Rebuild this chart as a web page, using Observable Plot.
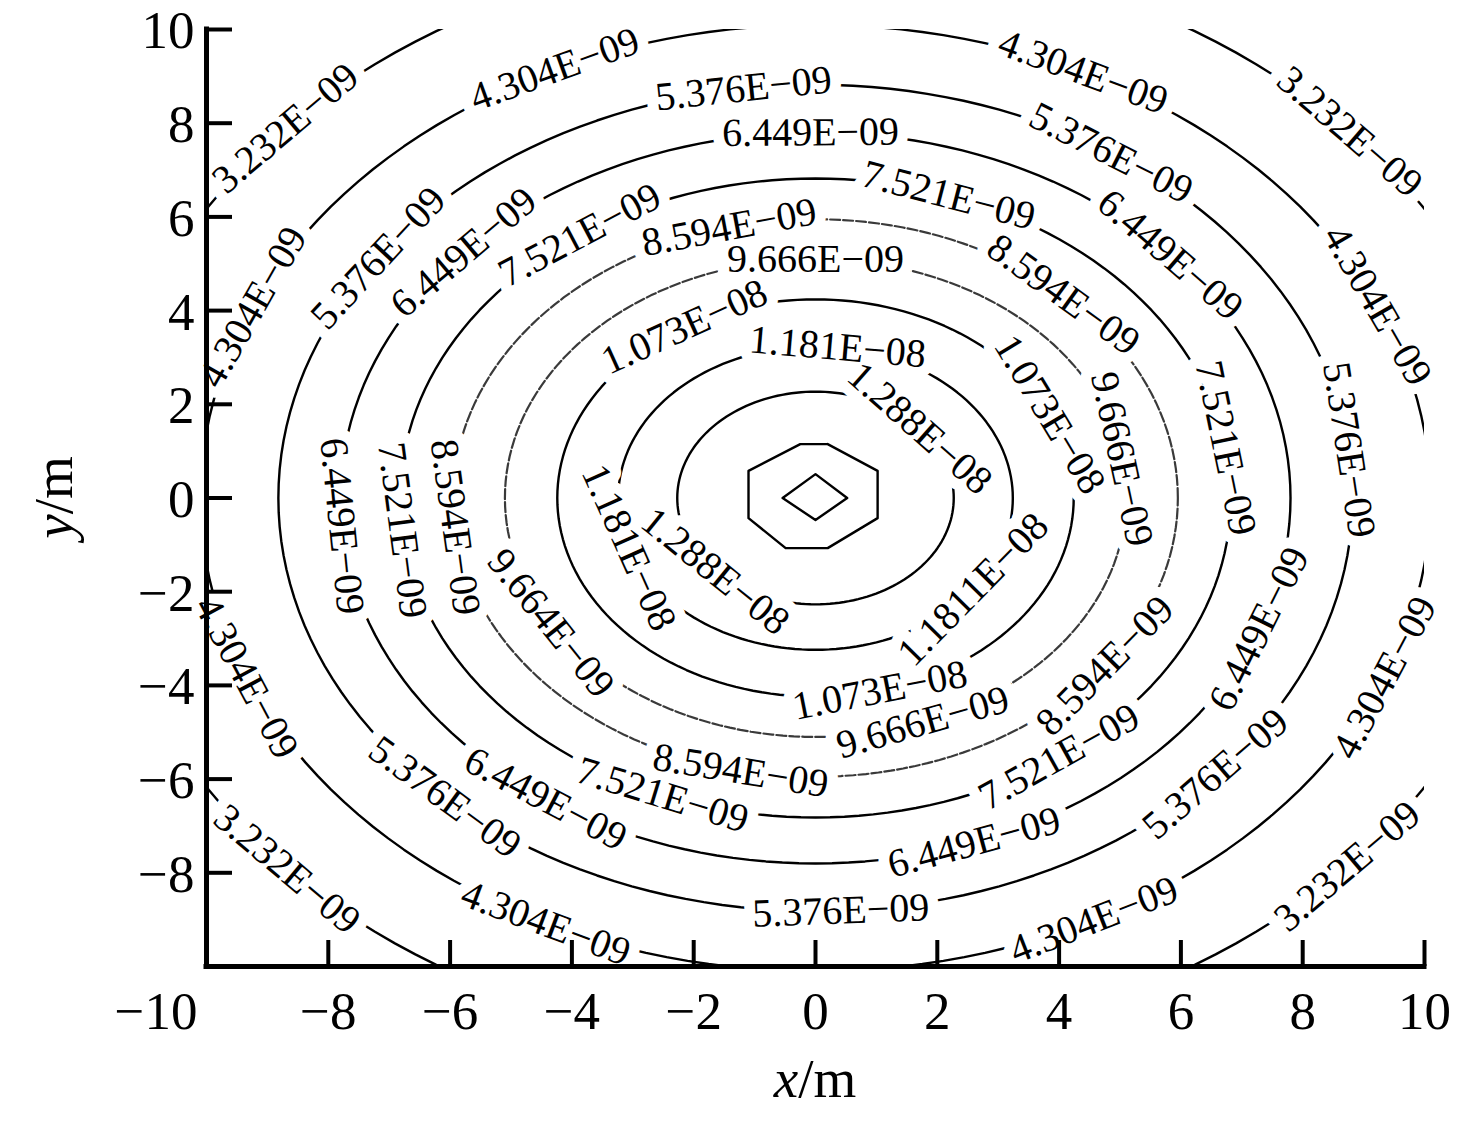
<!DOCTYPE html>
<html>
<head>
<meta charset="utf-8">
<script src="https://cdn.jsdelivr.net/npm/d3@7"></script>
<script src="https://cdn.jsdelivr.net/npm/@observablehq/plot@0.6"></script>
<style>
  html, body { margin: 0; padding: 0; background: #fff; }
</style>
</head>
<body>
<div id="chart"></div>
<script>
// ---- data ----
const levels = ["3.232E−09","4.304E−09","5.376E−09","6.449E−09","7.521E−09","8.594E−09","9.666E−09","1.073E−08","1.181E−08","1.288E−08"];
// radius (m) of each (nearly circular) contour
const radii = [11.75, 10.1, 8.82, 7.8, 6.82, 5.95, 5.1, 4.24, 3.24, 2.27];
// contours drawn grey / broken in the picture
const greyLevels = ["8.594E−09", "9.666E−09"];
// innermost two unlabeled contours (vertices, m)
const octagonX = [0.2, 1.02, 1.02, 0.2, -0.49, -1.1, -1.1, -0.25];
const octagonY = [1.15, 0.58, -0.43, -1.07, -1.07, -0.43, 0.58, 1.15];
const diamondX = [0.52, 0, -0.54, 0];
const diamondY = [0, 0.51, 0, -0.47];
// contour labels: text, contour index, angle (deg) on that contour
const labelText = ["3.232E−09","4.304E−09","4.304E−09","3.232E−09","5.376E−09","5.376E−09","6.449E−09","7.521E−09","6.449E−09","4.304E−09",
  "8.594E−09","9.666E−09","7.521E−09","6.449E−09","5.376E−09","4.304E−09","8.594E−09","1.073E−08","1.181E−08","1.288E−08",
  "1.073E−08","9.666E−09","7.521E−09","5.376E−09","6.449E−09","7.521E−09","8.594E−09","9.664E−09","1.181E−08","1.288E−08",
  "1.1811E−08","4.304E−09","6.449E−09","8.594E−09","1.073E−08","9.666E−09","7.521E−09","5.376E−09","3.232E−09","8.594E−09",
  "7.521E−09","6.449E−09","6.449E−09","5.376E−09","5.376E−09","4.304E−09","4.304E−09","4.304E−09","3.232E−09"];
const labelLevel = [0,1,1,0,2,2,3,4,3,1,
  5,6,4,3,2,1,5,7,8,9,
  7,6,4,2,3,4,5,6,8,9,
  8,1,3,5,7,6,4,2,0,5,
  4,3,3,2,2,1,1,1,0];
const labelAngle = [137.8,115.1,64.2,41.7,97.7,56.6,90.6,71.3,41.7,24,
  103.8,90,124.6,137.8,144.5,156.2,46.8,120.5,83.6,41,
  24.9,9.4,9,6.7,184.4,185.8,186,211.6,199,223.6,
  323,337.7,339,323,284.4,290.2,305.9,318.1,318,258.1,
  248.4,235.4,289.5,226.4,272.7,296.9,244,202.3,222.4];
const xTicks = [-10,-8,-6,-4,-2,0,2,4,6,8,10];
const yTicks = [-10,-8,-6,-4,-2,0,2,4,6,8,10];
const yTickLabels = [-8,-6,-4,-2,0,2,4,6,8,10];

// ---- layout ----
const W = 1469, H = 1121;
const mL = 206, mR = 45, mT = 29, mB = 155;
const sx = (W - mL - mR) / 20, sy = (H - mT - mB) / 20;
const serif = "'Liberation Serif', 'Times New Roman', Times, serif";
const rad = Math.PI / 180;

// contour polylines
const contourRows = [];
levels.forEach((lv, i) => {
  for (let a = 0; a <= 360; a += 2) {
    contourRows.push({level: lv, x: radii[i] * Math.cos(a * rad), y: radii[i] * Math.sin(a * rad)});
  }
});
octagonX.concat([octagonX[0]]).forEach((x, j) => contourRows.push({level: "octagon", x, y: octagonY[j % octagonY.length]}));
diamondX.concat([diamondX[0]]).forEach((x, j) => contourRows.push({level: "diamond", x, y: diamondY[j % diamondY.length]}));
const solidRows = contourRows.filter(d => !greyLevels.includes(d.level));
const greyRows = contourRows.filter(d => greyLevels.includes(d.level));

const labels = labelText.map((t, i) => {
  const r = radii[labelLevel[i]], a = labelAngle[i] * rad;
  const dX = -sx * Math.sin(a), dY = -sy * Math.cos(a);
  let rot = Math.atan2(dY, dX) / rad;
  if (rot > 90) rot -= 180;
  if (rot < -90) rot += 180;
  return {text: t, x: r * Math.cos(a), y: r * Math.sin(a), rotate: rot};
});

const chart = Plot.plot({
  width: W, height: H,
  marginLeft: mL, marginRight: mR, marginTop: mT, marginBottom: mB,
  style: {fontFamily: serif, fontSize: "53px", background: "#fff", color: "#000"},
  x: {domain: [-10, 10]},
  y: {domain: [-10, 10]},
  marks: [
    Plot.line(solidRows, {x: "x", y: "y", z: "level", stroke: "#000", strokeWidth: 2.4, clip: true}),
    Plot.line(greyRows, {x: "x", y: "y", z: "level", stroke: "#3a3a3a", strokeWidth: 2.2, strokeDasharray: "10,3", clip: true}),
    Plot.text(labels, {x: "x", y: "y", text: "text", rotate: "rotate", fontSize: 40, fontFamily: serif,
      fill: "#fff", stroke: "#fff", strokeWidth: 22, strokeLinejoin: "round"}),
    Plot.text(labels, {x: "x", y: "y", text: "text", rotate: "rotate", fontSize: 40, fontFamily: serif, fill: "#000"}),
    Plot.tickY(yTicks, {y: d => d, insetRight: (W - mL - mR) - 26, strokeWidth: 4, stroke: "#000"}),
    Plot.tickX(xTicks, {x: d => d, insetTop: (H - mT - mB) - 26, strokeWidth: 4, stroke: "#000"}),
    Plot.ruleX([-10], {y1: -10, y2: 10, strokeWidth: 5, stroke: "#000", strokeLinecap: "square"}),
    Plot.ruleY([-10], {x1: -10, x2: 10, strokeWidth: 5, stroke: "#000", strokeLinecap: "square"}),
    Plot.axisX(xTicks.filter(t => t > -10), {tickSize: 0, tickPadding: 25, label: null, fontSize: 53, fontFamily: serif}),
    Plot.axisX([-10], {tickSize: 0, tickPadding: 25, label: null, fontSize: 53, fontFamily: serif, textAnchor: "end", dx: -9}),
    Plot.axisY(yTickLabels, {tickSize: 0, tickPadding: 12, label: null, fontSize: 53, fontFamily: serif, dy: 2})
  ]
});
document.getElementById("chart").appendChild(chart);

// axis titles with italic variable names
const svg = d3.select(chart);
const xt = svg.append("text").attr("x", mL + (W - mL - mR) / 2).attr("y", 1097)
  .attr("text-anchor", "middle").attr("font-family", serif).attr("font-size", 55).attr("fill", "#000");
xt.append("tspan").attr("font-style", "italic").text("x");
xt.append("tspan").text("/m");
const yt = svg.append("text").attr("transform", `translate(72,${mT + (H - mT - mB) / 2}) rotate(-90)`)
  .attr("text-anchor", "middle").attr("font-family", serif).attr("font-size", 55).attr("fill", "#000");
yt.append("tspan").attr("font-style", "italic").text("y");
yt.append("tspan").text("/m");
</script>
</body>
</html>
